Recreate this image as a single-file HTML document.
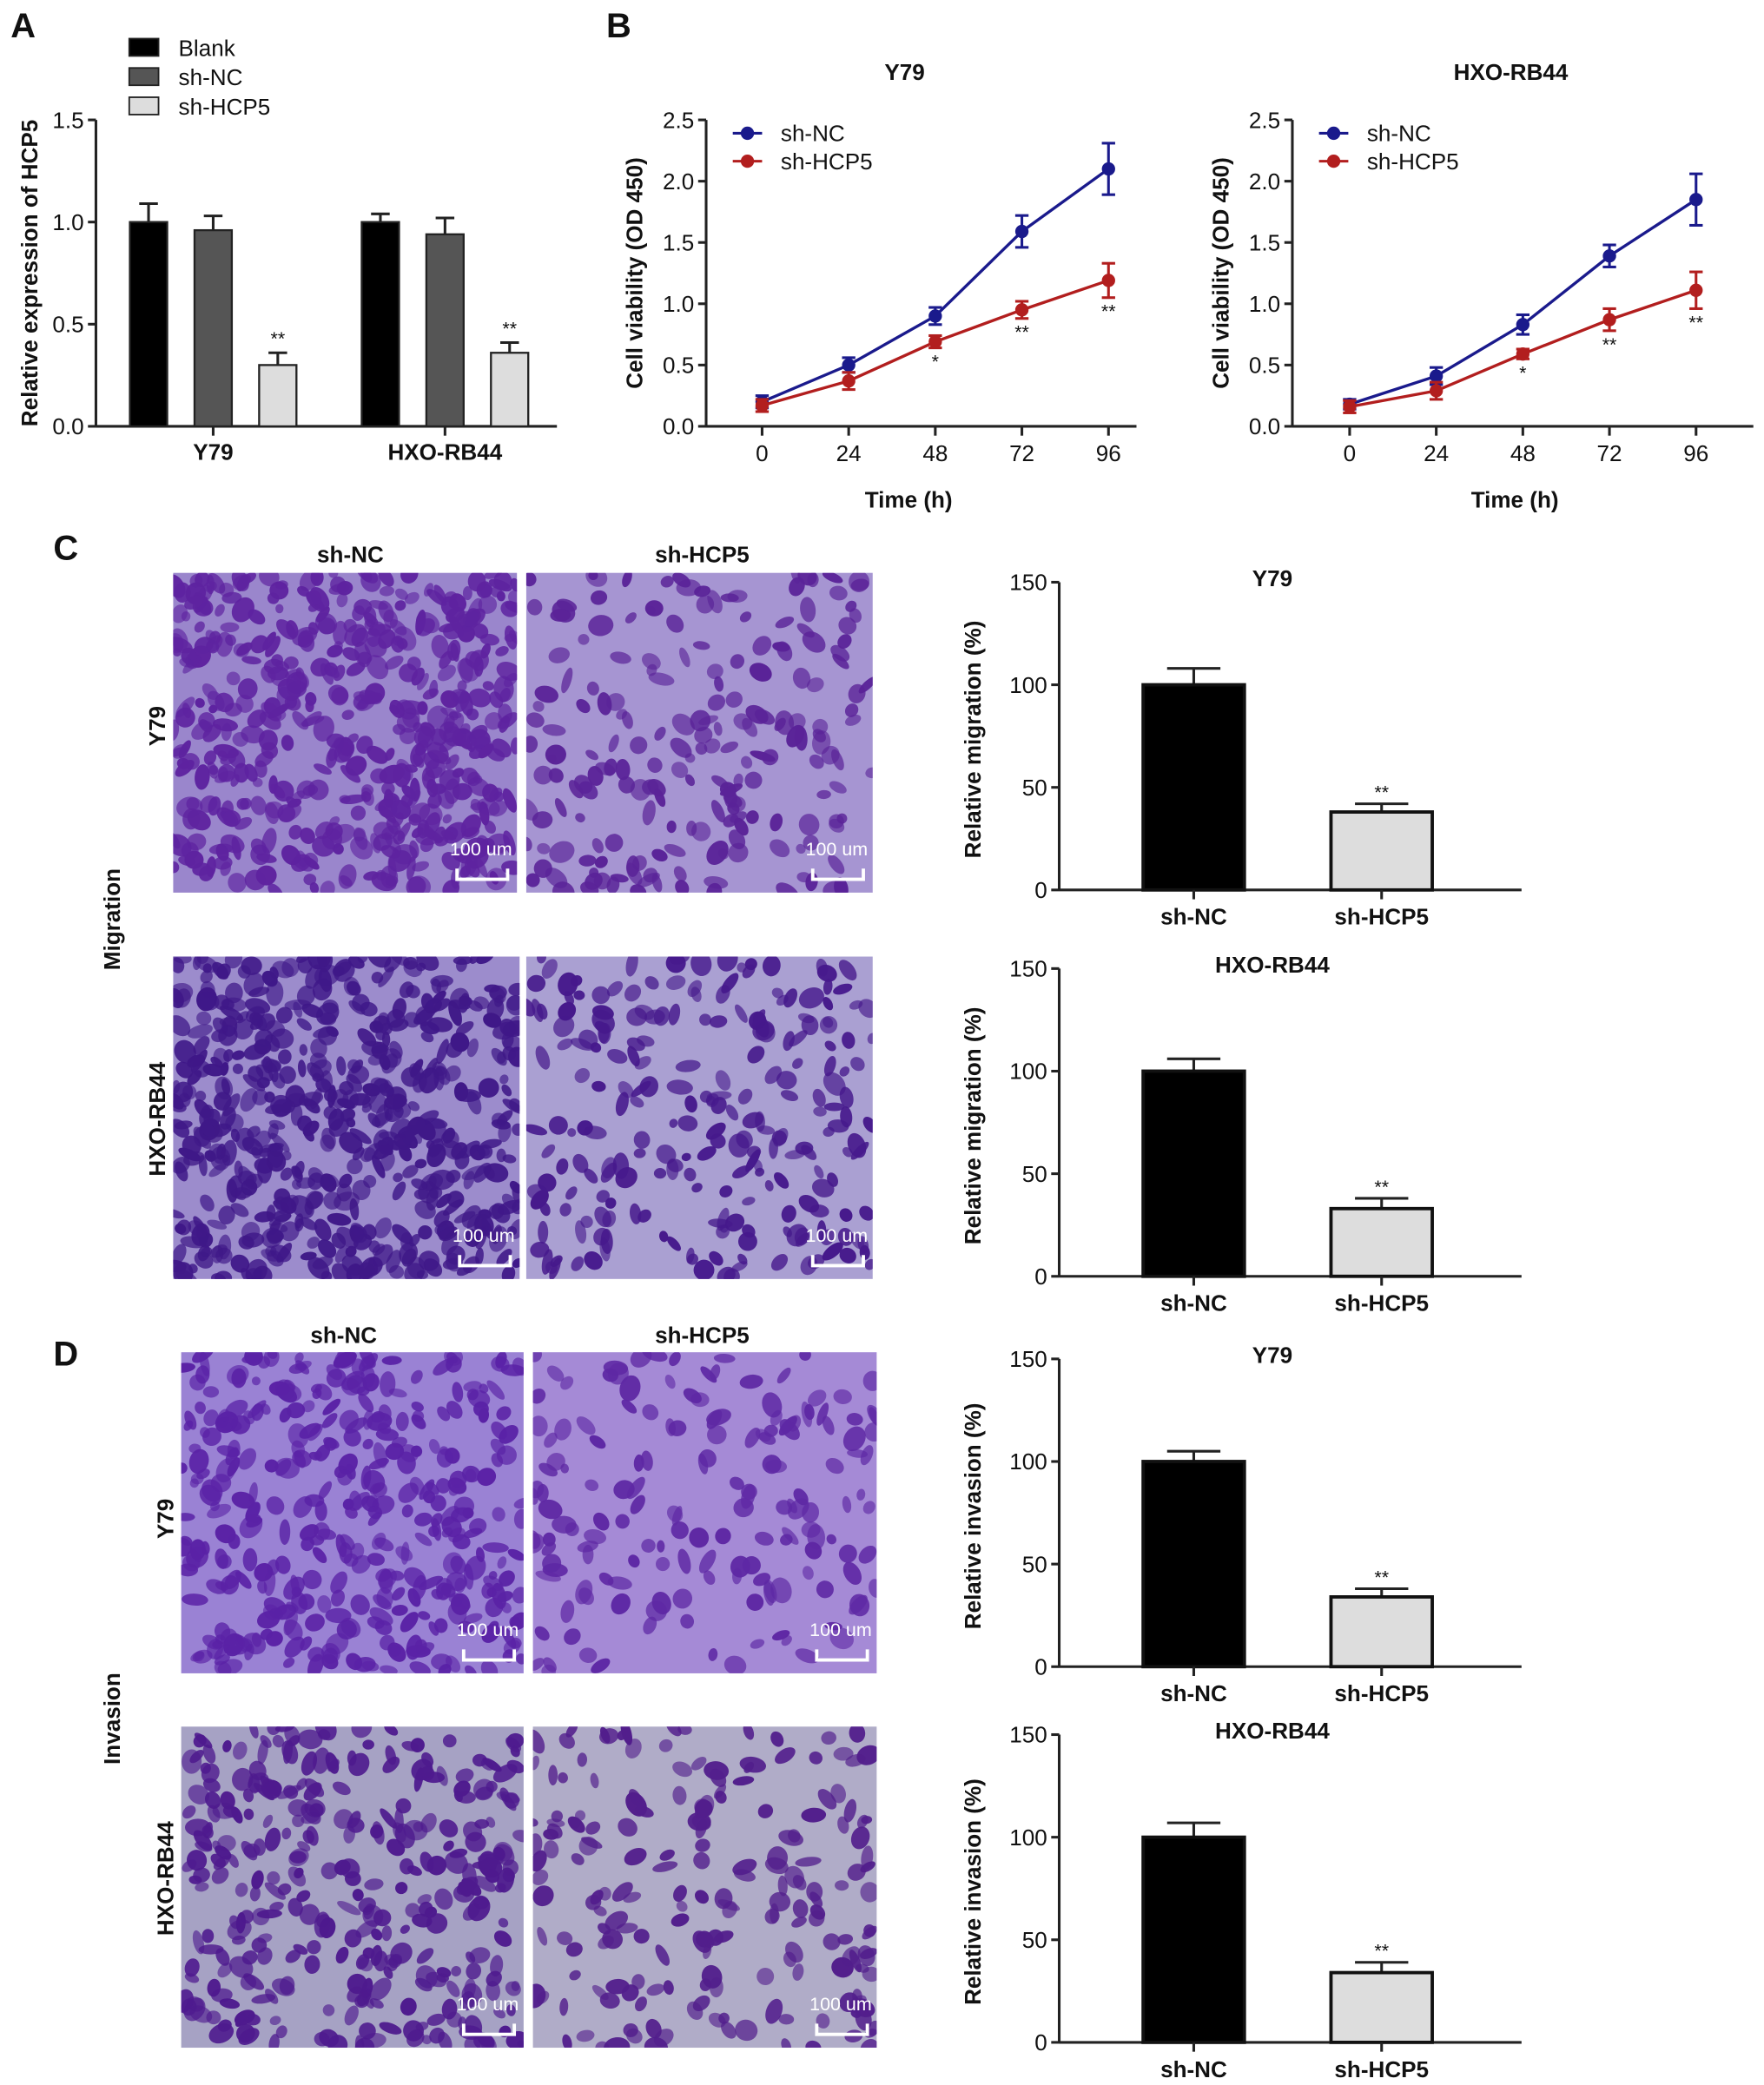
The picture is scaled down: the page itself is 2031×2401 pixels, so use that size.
<!DOCTYPE html>
<html><head><meta charset="utf-8"><style>
html,body{margin:0;padding:0;background:#fff}
svg{display:block}
text{font-family:"Liberation Sans",Arial,sans-serif;fill:#111}
</style></head><body>
<svg id="fig" xmlns="http://www.w3.org/2000/svg" width="2031" height="2401" viewBox="0 0 1324 1565" preserveAspectRatio="none">
<rect width="1324" height="1565" fill="#fff"/>
<g id="root"></g>
</svg>
<script>
// Panel A data
const aGroups = ["Y79", "HXO-RB44"];
const aSeries = ["Blank", "sh-NC", "sh-HCP5"];
const aValues = [[1.0, 0.96, 0.30], [1.0, 0.94, 0.36]];
const aErrors = [[0.09, 0.07, 0.06], [0.04, 0.08, 0.05]];
const aTicks = ["0.0", "0.5", "1.0", "1.5"];
// Panel B data
const bTimes = [0, 24, 48, 72, 96];
const bTicks = ["0.0", "0.5", "1.0", "1.5", "2.0", "2.5"];
const y79NC = [0.20, 0.50, 0.90, 1.59, 2.10];
const y79NCerr = [0.05, 0.06, 0.07, 0.13, 0.21];
const y79HCP5 = [0.17, 0.37, 0.69, 0.95, 1.19];
const y79HCP5err = [0.05, 0.07, 0.05, 0.07, 0.14];
const y79Stars = ["", "", "*", "**", "**"];
const hxoNC = [0.18, 0.41, 0.83, 1.39, 1.85];
const hxoNCerr = [0.04, 0.07, 0.08, 0.09, 0.21];
const hxoHCP5 = [0.16, 0.29, 0.59, 0.87, 1.11];
const hxoHCP5err = [0.05, 0.07, 0.04, 0.09, 0.15];
const hxoStars = ["", "", "*", "**", "**"];
// Panels C/D data
const cdCats = ["sh-NC", "sh-HCP5"];
const cdTicks = ["0", "50", "100", "150"];
const migY79 = [100, 38], migY79err = [8, 4];
const migHXO = [100, 33], migHXOerr = [6, 5];
const invY79 = [100, 34], invY79err = [5, 4];
const invHXO = [100, 34], invHXOerr = [7, 5];

const NS = "http://www.w3.org/2000/svg";
const root = document.getElementById("root");
function el(tag, attrs, parent, txt) {
  const e = document.createElementNS(NS, tag);
  for (const k in attrs) e.setAttribute(k, attrs[k]);
  if (txt !== undefined) e.textContent = txt;
  (parent || root).appendChild(e);
  return e;
}
function txt(x, y, s, size, opts, parent) {
  const t = el("text", Object.assign({x: x, y: y, "font-size": size, "text-anchor": "middle", "font-weight": "bold"}, opts || {}), parent, s);
  return t;
}

["A", "B", "C", "D"].forEach((L, i) => {
  const pos = [[8, 28], [455, 28], [40, 420], [40, 1025]][i];
  const t = txt(pos[0], pos[1], L, 26, {"text-anchor": "start"});
  
  
});

// ---------- Panel A ----------
(function () {
  const g = el("g", {});
  
  
  const x0 = 72, x1 = 418, yb = 320, yt = 90, vmax = 1.5;
  const ys = v => yb - (v / vmax) * (yb - yt);
  el("line", {x1: x0, y1: yt, x2: x0, y2: yb, stroke: "#222", "stroke-width": 2}, g);
  el("line", {x1: x0, y1: yb, x2: x1, y2: yb, stroke: "#222", "stroke-width": 2}, g);
  aTicks.forEach((t, i) => {
    const y = ys(parseFloat(t));
    el("line", {x1: x0 - 6, y1: y, x2: x0, y2: y, stroke: "#222", "stroke-width": 2}, g);
    txt(x0 - 9, y + 6, t, 17, {"text-anchor": "end", "font-weight": "normal"}, g);
  });
  const fills = ["#000", "#555", "#ddd"];
  const gx = [160, 334];
  aGroups.forEach((gname, gi) => {
    el("line", {x1: gx[gi], y1: yb, x2: gx[gi], y2: yb + 7, stroke: "#222", "stroke-width": 2}, g);
    const lab = txt(gx[gi], 345, gname, 17, {}, g);
    
    
    aValues[gi].forEach((v, si) => {
      const cx = gx[gi] + (si - 1) * 48.5;
      const y = ys(v), ye = ys(v + aErrors[gi][si]);
      el("line", {x1: cx, y1: y, x2: cx, y2: ye, stroke: "#222", "stroke-width": 2}, g);
      el("line", {x1: cx - 7, y1: ye, x2: cx + 7, y2: ye, stroke: "#222", "stroke-width": 2}, g);
      const b = el("rect", {x: cx - 14, y: y, width: 28, height: yb - y, fill: fills[si], stroke: "#222", "stroke-width": 1.5}, g);
      
      
      if (si === 2) txt(cx, ye - 6, "**", 14, {"font-weight": "normal"}, g);
    });
  });
  aSeries.forEach((s, i) => {
    const y = [36, 58, 80][i];
    const lg = el("g", {}, g);
    
    
    el("rect", {x: 97, y: y - 7, width: 22, height: 13, fill: fills[i], stroke: "#222", "stroke-width": 1.2}, lg);
    txt(134, y + 6, s, 17, {"text-anchor": "start", "font-weight": "normal"}, lg);
  });
  const yt2 = txt(0, 0, "Relative expression of HCP5", 17, {transform: "translate(28,205) rotate(-90)"}, g);
  
  
})();

// ---------- Panel B ----------
function lineChart(name, title, ax, xs0, nc, ncE, hc, hcE, stars, titleX, xEnd) {
  const g = el("g", {});
  
  
  const yb = 320, yt = 90, vmax = 2.5;
  const ys = v => yb - (v / vmax) * (yb - yt);
  const xs = t => xs0 + (t / 96) * 260;
  el("line", {x1: ax, y1: yt, x2: ax, y2: yb, stroke: "#222", "stroke-width": 2}, g);
  el("line", {x1: ax, y1: yb, x2: xEnd, y2: yb, stroke: "#222", "stroke-width": 2}, g);
  bTicks.forEach(t => {
    const y = ys(parseFloat(t));
    el("line", {x1: ax - 6, y1: y, x2: ax, y2: y, stroke: "#222", "stroke-width": 2}, g);
    txt(ax - 9, y + 6, t, 17, {"text-anchor": "end", "font-weight": "normal"}, g);
  });
  bTimes.forEach(t => {
    el("line", {x1: xs(t), y1: yb, x2: xs(t), y2: yb + 7, stroke: "#222", "stroke-width": 2}, g);
    txt(xs(t), 346, String(t), 17, {"font-weight": "normal"}, g);
  });
  txt(titleX + 3, 381, "Time (h)", 17, {}, g);
  txt(titleX, 60, title, 17, {}, g);
  txt(0, 0, "Cell viability (OD 450)", 17, {transform: "translate(" + (ax - 48) + ",205) rotate(-90)"}, g);
  const series = [[nc, ncE, "#1a1a8c", "sh-NC"], [hc, hcE, "#b21e1e", "sh-HCP5"]];
  series.forEach(([vals, errs, col, sname]) => {
    const sg = el("g", {}, g);
    
    
    el("polyline", {points: vals.map((v, i) => xs(bTimes[i]) + "," + ys(v)).join(" "), fill: "none", stroke: col, "stroke-width": 2.2}, sg);
    vals.forEach((v, i) => {
      const x = xs(bTimes[i]);
      el("line", {x1: x, y1: ys(v - errs[i]), x2: x, y2: ys(v + errs[i]), stroke: col, "stroke-width": 2}, sg);
      [v - errs[i], v + errs[i]].forEach(e => el("line", {x1: x - 5, y1: ys(e), x2: x + 5, y2: ys(e), stroke: col, "stroke-width": 2}, sg));
      const p = el("circle", {cx: x, cy: ys(v), r: 5, fill: col}, sg);
      
      
    });
  });
  stars.forEach((s, i) => {
    if (s) txt(xs(bTimes[i]), ys(hc[i] - hcE[i]) + 15, s, 14, {"font-weight": "normal"}, g);
  });
  series.forEach(([, , col, sname], i) => {
    const y = 100 + i * 21;
    const lg = el("g", {}, g);
    
    
    el("line", {x1: ax + 20, y1: y, x2: ax + 42, y2: y, stroke: col, "stroke-width": 2}, lg);
    el("circle", {cx: ax + 31, cy: y, r: 5, fill: col}, lg);
    txt(ax + 56, y + 6, sname, 17, {"text-anchor": "start", "font-weight": "normal"}, lg);
  });
}
lineChart("panel-b-y79-line-chart", "Y79", 530, 572, y79NC, y79NCerr, y79HCP5, y79HCP5err, y79Stars, 679, 853);
lineChart("panel-b-hxo-line-chart", "HXO-RB44", 970, 1013, hxoNC, hxoNCerr, hxoHCP5, hxoHCP5err, hxoStars, 1134, 1316);

// ---------- Micrographs (decorative) ----------
let seed = 7;
function rnd() { seed = (seed * 16807) % 2147483647; return seed / 2147483647; }
function micro(name, x, y, w, h, density, bg, cell) {
  const g = el("g", {});
  
  
  el("rect", {x: x, y: y, width: w, height: h, fill: bg}, g);
  const cp = "clip-" + name;
  const c = el("clipPath", {id: cp}, g);
  el("rect", {x: x, y: y, width: w, height: h}, c);
  const cg = el("g", {"clip-path": "url(#" + cp + ")"}, g);
  for (let i = 0; i < density; i++) {
    const cx = x + rnd() * w, cy = y + rnd() * h;
    el("ellipse", {cx: cx, cy: cy, rx: 3 + rnd() * 5, ry: 3 + rnd() * 7, fill: cell, opacity: 0.6 + rnd() * 0.4,
      transform: "rotate(" + Math.floor(rnd() * 180) + " " + cx + " " + cy + ")"}, cg);
  }
  const sx = x + w - 45;
  txt(sx + 18, y + h - 28, "100 um", 14, {fill: "#fff", "font-weight": "normal", style: "fill:#fff"}, g);
  el("path", {d: "M" + (sx) + "," + (y + h - 18) + " v8 h38 v-8", fill: "none", stroke: "#fff", "stroke-width": 2.5}, g);
}
micro("migration-y79-sh-nc-image", 130, 430, 258, 240, 520, "#9a86cc", "#5e23a0");
micro("migration-y79-sh-hcp5-image", 395, 430, 260, 240, 200, "#a695d2", "#5a2398");
micro("migration-hxo-sh-nc-image", 130, 718, 260, 242, 560, "#9c8ccc", "#3f1888");
micro("migration-hxo-sh-hcp5-image", 395, 718, 260, 242, 230, "#aaa0d2", "#46198c");
micro("invasion-y79-sh-nc-image", 136, 1015, 257, 241, 380, "#9a82d4", "#5a22a6");
micro("invasion-y79-sh-hcp5-image", 400, 1015, 258, 241, 160, "#a58ad6", "#5e28a4");
micro("invasion-hxo-sh-nc-image", 136, 1296, 257, 241, 330, "#a6a2c4", "#4e1a8e");
micro("invasion-hxo-sh-hcp5-image", 400, 1296, 258, 241, 190, "#b0acc8", "#521e8c");

[[263, 422, "sh-NC"], [527, 422, "sh-HCP5"], [258, 1008, "sh-NC"], [527, 1008, "sh-HCP5"]].forEach(([x, y, s]) => txt(x, y, s, 17, {}));
[[118, 545, "Y79"], [118, 840, "HXO-RB44"], [84, 690, "Migration"], [124, 1140, "Y79"], [124, 1410, "HXO-RB44"], [84, 1290, "Invasion"]].forEach(([x, y, s]) => {
  const t = txt(0, 0, s, 17, {transform: "translate(" + (x + 6) + "," + y + ") rotate(-90)"});
  
  
});

// ---------- C/D bar charts ----------
function barChart(name, title, ytitle, y0, vals, errs) {
  const g = el("g", {});
  
  
  const ax = 795, yt = y0, yb = y0 + 231, vmax = 150;
  const ys = v => yb - (v / vmax) * (yb - yt);
  const xc = [896, 1037];
  el("line", {x1: ax, y1: yt, x2: ax, y2: yb, stroke: "#222", "stroke-width": 2}, g);
  el("line", {x1: ax, y1: yb, x2: 1142, y2: yb, stroke: "#222", "stroke-width": 2}, g);
  cdTicks.forEach(t => {
    const y = ys(parseFloat(t));
    el("line", {x1: ax - 6, y1: y, x2: ax, y2: y, stroke: "#222", "stroke-width": 2}, g);
    txt(ax - 9, y + 6, t, 17, {"text-anchor": "end", "font-weight": "normal"}, g);
  });
  txt(955, y0 + 3, title, 17, {}, g);
  txt(0, 0, ytitle, 17, {transform: "translate(736," + (y0 + 118) + ") rotate(-90)"}, g);
  cdCats.forEach((c, i) => {
    const y = ys(vals[i]), ye = ys(vals[i] + errs[i]);
    el("line", {x1: xc[i], y1: y, x2: xc[i], y2: ye, stroke: "#222", "stroke-width": 2}, g);
    el("line", {x1: xc[i] - 20, y1: ye, x2: xc[i] + 20, y2: ye, stroke: "#222", "stroke-width": 2}, g);
    const b = el("rect", {x: xc[i] - 38, y: y, width: 76, height: yb - y, fill: i ? "#ddd" : "#000", stroke: "#111", "stroke-width": 2.5}, g);
    
    
    el("line", {x1: xc[i], y1: yb, x2: xc[i], y2: yb + 7, stroke: "#222", "stroke-width": 2}, g);
    txt(xc[i], yb + 26, c, 17, {}, g);
    if (i === 1) txt(xc[i], ye - 4, "**", 14, {"font-weight": "normal"}, g);
  });
}
barChart("migration-y79-bar-chart", "Y79", "Relative migration  (%)", 437, migY79, migY79err);
barChart("migration-hxo-bar-chart", "HXO-RB44", "Relative migration (%)", 727, migHXO, migHXOerr);
barChart("invasion-y79-bar-chart", "Y79", "Relative invasion (%)", 1020, invY79, invY79err);
barChart("invasion-hxo-bar-chart", "HXO-RB44", "Relative invasion (%)", 1302, invHXO, invHXOerr);
</script>
</body></html>
